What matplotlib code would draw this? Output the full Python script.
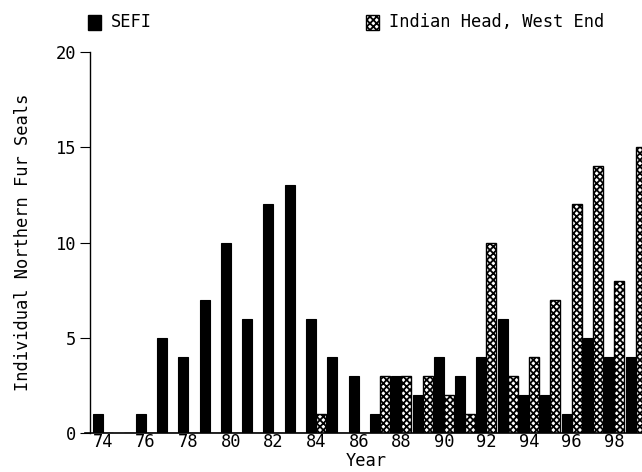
import matplotlib.pyplot as plt
import matplotlib.patches as mpatches
import numpy as np

years = np.arange(74, 100)
sefi = [1, 0, 1, 5, 4, 7, 10, 6, 12, 13, 6, 4, 3, 1, 3, 2, 4, 3, 4, 6, 2, 2, 1, 5, 4, 4]
indian_head = [0, 0, 0, 0, 0, 0, 0, 0, 0, 0, 1, 0, 0, 3, 3, 3, 2, 1, 10, 3, 4, 7, 12, 14, 8, 15]
xticks = np.arange(74, 100, 2)

plt.rcParams['font.family'] = ['DejaVu Sans Mono']
plt.rcParams['hatch.linewidth'] = 1.3
fs = 12.3

fig = plt.figure(figsize=(6.42, 4.72), dpi=100)
ax = fig.add_axes([0.1402, 0.0826, 0.8598, 0.807])

w = 0.47
ax.bar(years - w / 2, sefi, width=w, color='black', edgecolor='black', linewidth=0.8)
ax.bar(years + w / 2, indian_head, width=w, color='white', edgecolor='black',
       hatch='xxxxx', linewidth=1.0)

ax.set_xlim(73.39, 99.3)
ax.set_ylim(0, 20)
ax.set_yticks([0, 5, 10, 15, 20])
ax.set_xticks(xticks)
ax.set_xticklabels([str(t) for t in xticks])
ax.tick_params(axis='x', length=0, labelsize=fs, pad=0)
ax.tick_params(axis='y', direction='out', length=7, labelsize=fs, pad=3)
for s in ['top', 'right']:
    ax.spines[s].set_visible(False)
ax.spines['left'].set_linewidth(1.0)
ax.spines['bottom'].set_linewidth(1.2)
ax.spines['bottom'].set_bounds(73.15, 99.3)

ax.set_ylabel('Individual Northern Fur Seals', fontsize=fs, labelpad=17)
ax.set_xlabel('Year', fontsize=fs, labelpad=1)

# legend drawn as boxes plus text along the top
fig.add_artist(mpatches.Rectangle((0.137, 0.937), 0.020, 0.031, transform=fig.transFigure,
                                  facecolor='black', edgecolor='black'))
fig.text(0.173, 0.953, 'SEFI', fontsize=fs, va='center', ha='left')
fig.add_artist(mpatches.Rectangle((0.570, 0.937), 0.020, 0.031, transform=fig.transFigure,
                                  facecolor='white', edgecolor='black', hatch='xxxxx'))
fig.text(0.606, 0.953, 'Indian Head, West End', fontsize=fs, va='center', ha='left')

fig.savefig('out.png', dpi=100)
